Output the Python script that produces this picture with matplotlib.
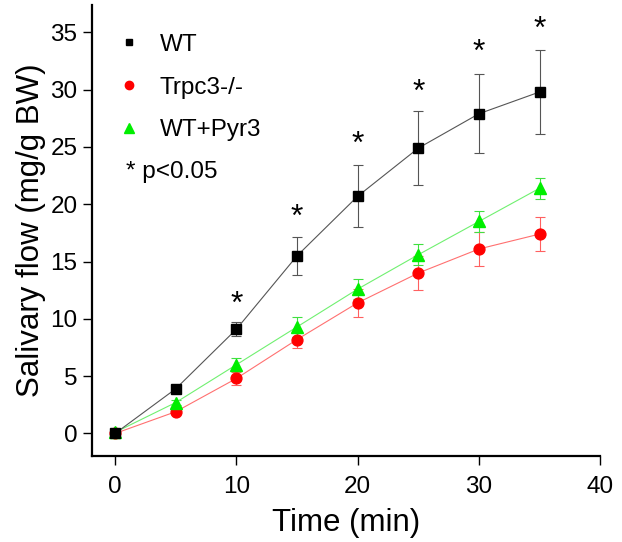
import numpy as np
import matplotlib
matplotlib.use("Agg")
import matplotlib.pyplot as plt
from matplotlib.lines import Line2D

plt.rcParams['font.family'] = ['Liberation Sans', 'DejaVu Sans']

# dados
tempo = [0, 5, 10, 15, 20, 25, 30, 35]
wt = [0.0, 3.9, 9.1, 15.5, 20.7, 24.9, 27.9, 29.8]
wt_err = [0.0, 0.2, 0.6, 1.65, 2.7, 3.2, 3.45, 3.7]
trpc3 = [0.0, 1.9, 4.8, 8.2, 11.4, 14.0, 16.1, 17.4]
trpc3_err = [0.0, 0.2, 0.6, 0.7, 1.2, 1.5, 1.5, 1.5]
pyr3 = [0.1, 2.7, 6.0, 9.3, 12.6, 15.6, 18.5, 21.4]
pyr3_err = [0.0, 0.2, 0.55, 0.85, 0.9, 0.9, 0.9, 0.9]
# asteriscos (p<0.05)
ast_x = [10, 15, 20, 25, 30, 35]
ast_y = [11.2, 18.8, 25.2, 29.7, 33.2, 35.2]

fig = plt.figure(figsize=(6.22, 5.42), dpi=100)
ax = fig.add_axes([0.148, 0.159, 0.817, 0.832])

# curvas
ax.errorbar(tempo, trpc3, yerr=trpc3_err, color='#ff6060', capsize=3.5,
            elinewidth=0.8, capthick=0.8, zorder=2, fmt='none')
ax.plot(tempo, trpc3, color='#ff7070', lw=0.8, zorder=2)
ax.plot(tempo, trpc3, 'o', color='#ff0000', ms=7.8, mec='#ff0000', zorder=4)

ax.errorbar(tempo, pyr3, yerr=pyr3_err, color='#40e040', capsize=3.5,
            elinewidth=0.8, capthick=0.8, zorder=2, fmt='none')
ax.plot(tempo, pyr3, color='#70f070', lw=0.8, zorder=2)
ax.plot(tempo, pyr3, '^', color='#00ee00', ms=8.5, mec='#00ee00', zorder=5)

ax.errorbar(tempo, wt, yerr=wt_err, color='#555555', capsize=3.5,
            elinewidth=0.8, capthick=0.8, zorder=2, fmt='none')
ax.plot(tempo, wt, color='#555555', lw=0.8, zorder=2)
ax.plot(tempo, wt, 's', color='black', ms=6.5, zorder=6)

for x, y in zip(ast_x, ast_y):
    ax.text(x, y, '*', fontsize=23, ha='center', va='center', color='black')

ax.set_xlim(-1.9, 40)
ax.set_ylim(-1.95, 37.4)
ax.set_xticks([0, 10, 20, 30, 40])
ax.set_yticks([0, 5, 10, 15, 20, 25, 30, 35])
ax.spines['top'].set_visible(False)
ax.spines['right'].set_visible(False)
ax.spines['left'].set_linewidth(1.6)
ax.spines['bottom'].set_linewidth(1.6)
ax.tick_params(direction='out', length=6.5, width=1.0, labelsize=17.5)
ax.tick_params(axis='x', pad=8)
ax.tick_params(axis='y', pad=4)
ax.set_xlabel('Time (min)', fontsize=22.5, labelpad=7)
ax.set_ylabel('Salivary flow (mg/g BW)', fontsize=22.5, labelpad=3)

handles = [
    Line2D([], [], ls='none', marker='s', color='black', ms=5),
    Line2D([], [], ls='none', marker='o', color='#ff0000', ms=6),
    Line2D([], [], ls='none', marker='^', color='#00ee00', ms=6.5),
]
leg = ax.legend(handles, ['WT', 'Trpc3-/-', 'WT+Pyr3'], loc='upper left',
                bbox_to_anchor=(0.03, 0.957), borderaxespad=0, frameon=False,
                fontsize=17.5, handlelength=1.0, handletextpad=0.75,
                labelspacing=0.85)
ax.text(0.067, 0.63, '* p<0.05', transform=ax.transAxes, fontsize=17.5,
        ha='left', va='center')

fig.savefig('out.png', dpi=100)
